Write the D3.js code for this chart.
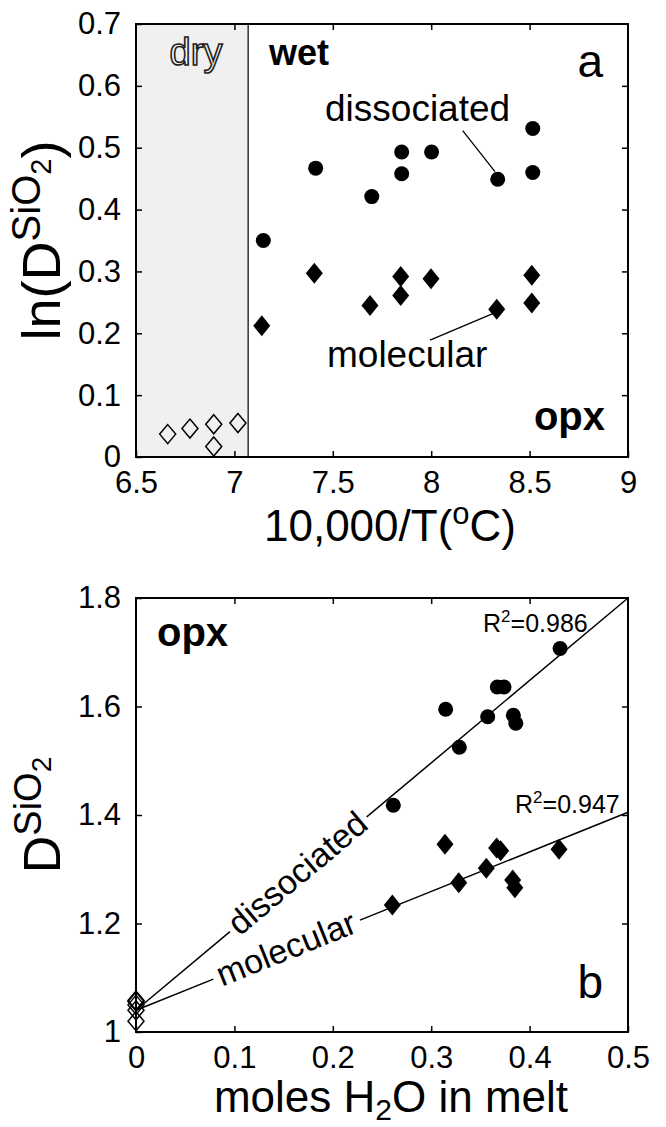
<!DOCTYPE html>
<html>
<head>
<meta charset="utf-8">
<script src="https://cdn.jsdelivr.net/npm/d3@7"></script>
<style>
  html, body { margin: 0; padding: 0; background: #fff; }
  svg { display: block; font-family: "Liberation Sans", Arial, sans-serif; }
</style>
</head>
<body>
<svg id="chart" width="666" height="1127"></svg>
<script>
// panel a: ln(D SiO2) vs 10,000/T
const dissocT   = [7.147, 7.413, 7.698, 7.850, 7.850, 8.002, 8.338, 8.516, 8.516];
const dissocLnD = [0.350, 0.467, 0.421, 0.493, 0.458, 0.493, 0.449, 0.531, 0.460];
const molecT    = [7.139, 7.406, 7.689, 7.845, 7.845, 7.999, 8.333, 8.511, 8.511];
const molecLnD  = [0.212, 0.297, 0.245, 0.292, 0.261, 0.288, 0.239, 0.294, 0.249];
const dryT      = [6.661, 6.774, 6.895, 6.895, 7.018];
const dryLnD    = [0.037, 0.046, 0.053, 0.017, 0.055];
const dryWetBoundary = 7.07;

// panel b: D SiO2 vs moles H2O in melt
const dissocH2O = [0.2615, 0.3147, 0.3286, 0.3574, 0.3672, 0.3740, 0.3835, 0.3860, 0.4310];
const dissocD   = [1.418, 1.595, 1.525, 1.581, 1.636, 1.636, 1.584, 1.569, 1.707];
const molecH2O  = [0.2605, 0.3140, 0.3280, 0.3560, 0.3665, 0.3706, 0.3828, 0.3850, 0.4299];
const molecD    = [1.234, 1.346, 1.275, 1.302, 1.339, 1.334, 1.280, 1.266, 1.337];
const dryH2O    = [0, 0, 0, 0, 0];
const dryD      = [1.040, 1.050, 1.056, 1.020, 1.058];
const dissocFit = {intercept: 1.04, slope: 1.52, r2: "0.986"};
const molecFit  = {intercept: 1.04, slope: 0.73, r2: "0.947"};

const xTicksA = [6.5, 7, 7.5, 8, 8.5, 9];
const yTicksA = [0, 0.1, 0.2, 0.3, 0.4, 0.5, 0.6, 0.7];
const xTicksB = [0, 0.1, 0.2, 0.3, 0.4, 0.5];
const yTicksB = [1, 1.2, 1.4, 1.6, 1.8];

const svg = d3.select("#chart");
const TICK_FONT = 31;

const xA = d3.scaleLinear().domain([6.5, 9]).range([136, 628]);
const yA = d3.scaleLinear().domain([0, 0.7]).range([457, 24]);
const xB = d3.scaleLinear().domain([0, 0.5]).range([136, 628]);
const yB = d3.scaleLinear().domain([1, 1.8]).range([1032, 598]);

const zip = (xs, ys) => xs.map((x, i) => ({x, y: ys[i]}));

function diamond(hw, hh) {
    return `M0,${-hh}L${hw},0L0,${hh}L${-hw},0Z`;
}

function drawAxes(g, x, y, xTicks, yTicks, fmtX, fmtY) {
    const [x0, x1] = x.range();
    const [y0, y1] = y.range();
    const inner = v => v !== x.domain()[0] && v !== x.domain()[1];
    const innerY = v => v !== y.domain()[0] && v !== y.domain()[1];

    g.append("g").attr("transform", `translate(0,${y0})`)
        .call(d3.axisBottom(x).tickValues(xTicks).tickSize(-6).tickPadding(14).tickFormat(fmtX))
        .call(styleAxis);
    g.append("g").attr("transform", `translate(0,${y1})`)
        .call(d3.axisTop(x).tickValues(xTicks.filter(inner)).tickSize(-6).tickFormat(""))
        .call(styleAxis);
    g.append("g").attr("transform", `translate(${x0},0)`)
        .call(d3.axisLeft(y).tickValues(yTicks).tickSize(-6).tickPadding(15).tickFormat(fmtY))
        .call(styleAxis);
    g.append("g").attr("transform", `translate(${x1},0)`)
        .call(d3.axisRight(y).tickValues(yTicks.filter(innerY)).tickSize(-6).tickFormat(""))
        .call(styleAxis);

    g.append("rect")
        .attr("x", x0).attr("y", y1)
        .attr("width", x1 - x0).attr("height", y0 - y1)
        .attr("fill", "none").attr("stroke", "#000").attr("stroke-width", 2);
}

function styleAxis(sel) {
    sel.select(".domain").remove();
    sel.selectAll(".tick line").attr("stroke", "#000").attr("stroke-width", 1.5);
    sel.selectAll(".tick text")
        .attr("font-size", TICK_FONT)
        .attr("font-family", "Liberation Sans, Arial, sans-serif")
        .attr("fill", "#000");
}

function label(g, x, y, text, opts = {}) {
    return g.append("text")
        .attr("x", x).attr("y", y)
        .attr("font-size", opts.size || 36)
        .attr("font-weight", opts.weight || "normal")
        .attr("text-anchor", opts.anchor || "start")
        .attr("fill", "#000")
        .text(text);
}

// ---------- panel a ----------
const gA = svg.append("g");

gA.append("rect")
    .attr("x", xA(6.5)).attr("y", yA(0.7))
    .attr("width", xA(dryWetBoundary) - xA(6.5))
    .attr("height", yA(0) - yA(0.7))
    .attr("fill", "#f0f0f0");

gA.append("line")
    .attr("x1", xA(dryWetBoundary)).attr("x2", xA(dryWetBoundary))
    .attr("y1", yA(0.7)).attr("y2", yA(0))
    .attr("stroke", "#333").attr("stroke-width", 1.5);

drawAxes(gA, xA, yA, xTicksA, yTicksA, d3.format("~g"), d => d === 0 ? "0" : d3.format(".1f")(d));

gA.selectAll("path.dry")
    .data(zip(dryT, dryLnD))
    .join("path")
    .attr("class", "dry")
    .attr("transform", d => `translate(${xA(d.x)},${yA(d.y)})`)
    .attr("d", diamond(8, 9.5))
    .attr("fill", "none").attr("stroke", "#000").attr("stroke-width", 1.5);

gA.selectAll("circle.dissoc")
    .data(zip(dissocT, dissocLnD))
    .join("circle")
    .attr("class", "dissoc")
    .attr("cx", d => xA(d.x)).attr("cy", d => yA(d.y))
    .attr("r", 7.5).attr("fill", "#000");

gA.selectAll("path.molec")
    .data(zip(molecT, molecLnD))
    .join("path")
    .attr("class", "molec")
    .attr("transform", d => `translate(${xA(d.x)},${yA(d.y)})`)
    .attr("d", diamond(8.5, 10.5))
    .attr("fill", "#000");

// leader lines
const leadersA = [
    [[8.160, 0.5275], [8.324, 0.4612]],
    [[7.994, 0.1891], [8.316, 0.2323]]
];
gA.selectAll("line.leader")
    .data(leadersA)
    .join("line")
    .attr("x1", d => xA(d[0][0])).attr("y1", d => yA(d[0][1]))
    .attr("x2", d => xA(d[1][0])).attr("y2", d => yA(d[1][1]))
    .attr("stroke", "#000").attr("stroke-width", 1.3);

label(gA, 196, 65, "dry", {size: 38, anchor: "middle"})
    .attr("fill", "#fafafa").attr("stroke", "#222").attr("stroke-width", 1.6);
label(gA, 269, 65, "wet", {size: 36, weight: "bold"});
label(gA, 603, 77, "a", {size: 46, anchor: "end"});
label(gA, 325, 121, "dissociated", {size: 37});
label(gA, 327, 367, "molecular", {size: 37});
label(gA, 605, 430, "opx", {size: 40, weight: "bold", anchor: "end"});

// axis titles
const titleA = gA.append("text")
    .attr("x", 390).attr("y", 541)
    .attr("font-size", 44).attr("text-anchor", "middle");
titleA.append("tspan").text("10,000/T(");
titleA.append("tspan").attr("font-size", 31).attr("dy", -17).text("o");
titleA.append("tspan").attr("dy", 17).text("C)");

const yTitleA = gA.append("text")
    .attr("transform", `translate(60,${(yA(0) + yA(0.7)) / 2}) rotate(-90)`)
    .attr("font-size", 54).attr("text-anchor", "middle");
yTitleA.append("tspan").text("ln(D");
yTitleA.append("tspan").attr("font-size", 40).attr("dy", -20).text("SiO");
yTitleA.append("tspan").attr("font-size", 29).attr("dy", 11).text("2");
yTitleA.append("tspan").attr("dy", 9).text(")");

// ---------- panel b ----------
const gB = svg.append("g");
drawAxes(gB, xB, yB, xTicksB, yTicksB, d => d === 0 ? "0" : d3.format(".1f")(d), d => d === 1 ? "1" : d3.format(".1f")(d));

function fitLine(fit, gap) {
    const f = v => fit.intercept + fit.slope * v;
    const segs = [[0, gap[0]], [gap[1], 0.5]];
    gB.selectAll(null)
        .data(segs)
        .join("line")
        .attr("x1", d => xB(d[0])).attr("y1", d => yB(f(d[0])))
        .attr("x2", d => xB(d[1])).attr("y2", d => yB(f(d[1])))
        .attr("stroke", "#000").attr("stroke-width", 1.5);
}
fitLine(dissocFit, [0.0955, 0.2345]);
fitLine(molecFit, [0.0786, 0.2276]);

function lineLabel(fit, at, text) {
    const px = xB(at), py = yB(fit.intercept + fit.slope * at);
    const ang = Math.atan2(yB(fit.intercept + fit.slope * 0.5) - yB(fit.intercept), xB(0.5) - xB(0)) * 180 / Math.PI;
    gB.append("text")
        .attr("transform", `translate(${px},${py}) rotate(${ang})`)
        .attr("font-size", 34).attr("text-anchor", "middle")
        .attr("dy", "0.3em")
        .text(text);
}
lineLabel(dissocFit, 0.165, "dissociated");
lineLabel(molecFit, 0.153, "molecular");

gB.selectAll("path.dry")
    .data(zip(dryH2O, dryD))
    .join("path")
    .attr("class", "dry")
    .attr("transform", d => `translate(${xB(d.x)},${yB(d.y)})`)
    .attr("d", diamond(8, 9.5))
    .attr("fill", "none").attr("stroke", "#000").attr("stroke-width", 1.5);

gB.selectAll("circle.dissoc")
    .data(zip(dissocH2O, dissocD))
    .join("circle")
    .attr("class", "dissoc")
    .attr("cx", d => xB(d.x)).attr("cy", d => yB(d.y))
    .attr("r", 7.5).attr("fill", "#000");

gB.selectAll("path.molec")
    .data(zip(molecH2O, molecD))
    .join("path")
    .attr("class", "molec")
    .attr("transform", d => `translate(${xB(d.x)},${yB(d.y)})`)
    .attr("d", diamond(8.5, 10.5))
    .attr("fill", "#000");

function r2Label(x, y, value) {
    const t = gB.append("text").attr("x", x).attr("y", y).attr("font-size", 25);
    t.append("tspan").text("R");
    t.append("tspan").attr("font-size", 17).attr("dy", -10).text("2");
    t.append("tspan").attr("dy", 10).text("=" + value);
}
r2Label(483, 632, dissocFit.r2);
r2Label(515, 813, molecFit.r2);

label(gB, 157, 646, "opx", {size: 40, weight: "bold"});
label(gB, 603, 998, "b", {size: 46, anchor: "end"});

const titleB = gB.append("text")
    .attr("x", 391).attr("y", 1112)
    .attr("font-size", 44).attr("text-anchor", "middle");
titleB.append("tspan").text("moles H");
titleB.append("tspan").attr("font-size", 30).attr("dy", 8).text("2");
titleB.append("tspan").attr("dy", -8).text("O in melt");

const yTitleB = gB.append("text")
    .attr("transform", `translate(60,${(yB(1) + yB(1.8)) / 2}) rotate(-90)`)
    .attr("font-size", 52).attr("text-anchor", "middle");
yTitleB.append("tspan").text("D");
yTitleB.append("tspan").attr("font-size", 38).attr("dy", -19).text("SiO");
yTitleB.append("tspan").attr("font-size", 28).attr("dy", 10).text("2");
</script>
</body>
</html>
